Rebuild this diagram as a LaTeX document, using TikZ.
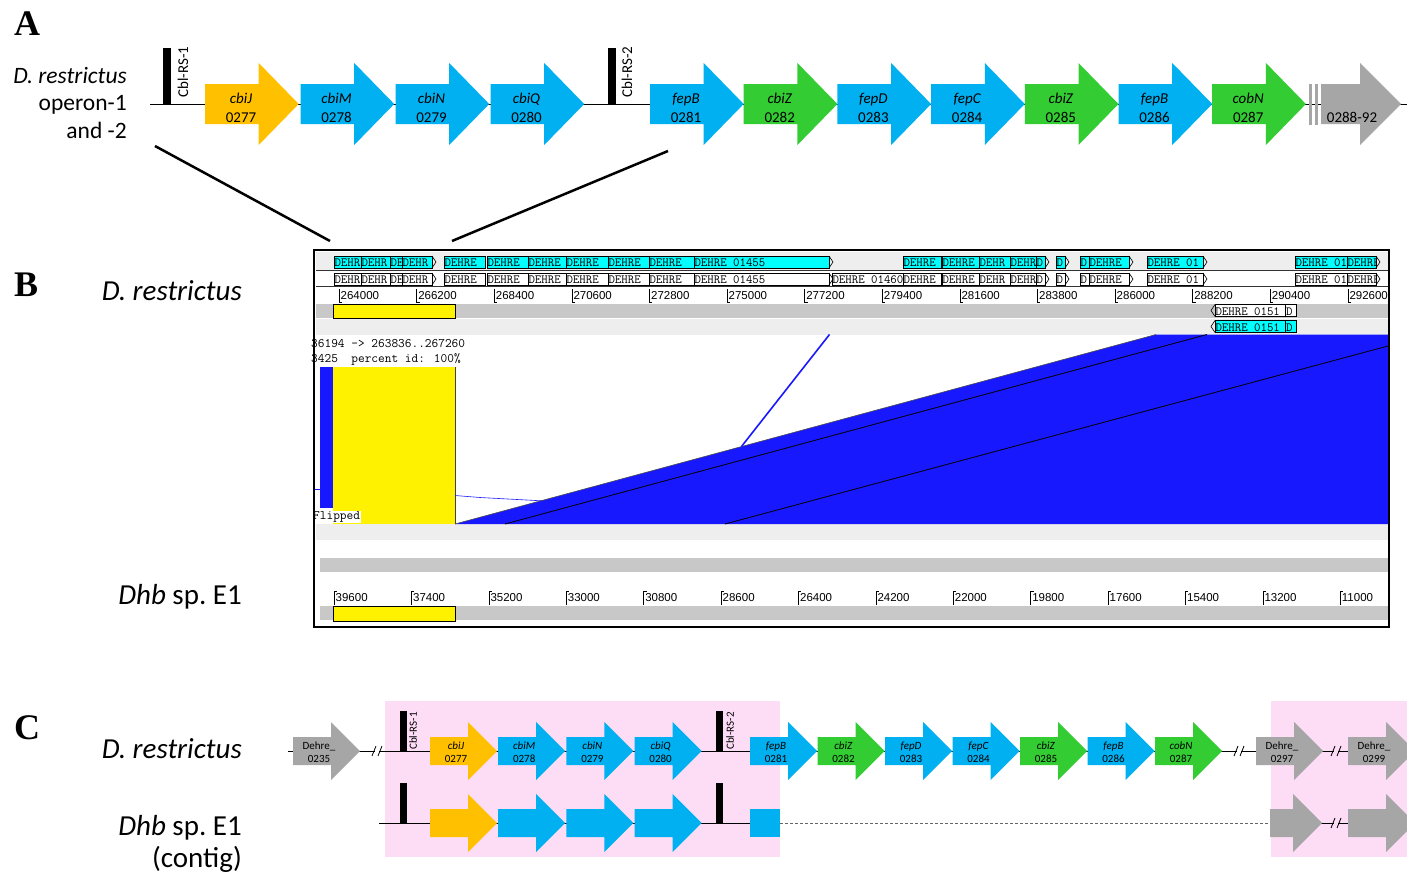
\documentclass[tikz,border=0pt]{standalone}
\usepackage{fontspec}
\setmainfont{Carlito}
\newfontfamily\serifbold{Liberation Serif}
\newfontfamily\rulerfont{Liberation Sans}

\definecolor{gorange}{HTML}{FFC000}
\definecolor{gblue}{HTML}{00B0F0}
\definecolor{ggreen}{HTML}{33CC33}
\definecolor{ggray}{HTML}{A6A6A6}
\definecolor{pinkbg}{HTML}{FDDDF6}
\definecolor{bblue}{HTML}{1818FF}
\definecolor{bcyan}{HTML}{00FFFF}
\definecolor{lgray}{HTML}{EEEEEE}
\definecolor{mgray}{HTML}{C8C8C8}

% operon arrow of the top row: left x, colour, name, gene, locus number
\newcommand\arrA[5]{%
  \fill[#2] (#1,84) -- (#1+53.7,84) -- (#1+53.7,63) -- (#1+93.7,104)
    -- (#1+53.7,145) -- (#1+53.7,124) -- (#1,124) -- cycle;
  \node[gA] (#3a) at (#1+36,103) {\itshape #4};
  \node[gA] (#3b) at (#1+36,122) {#5};
}
% small operon arrow: left x, baseline y, colour, name, top label, bottom label
\newcommand\arrC[6]{%
  \fill[#3] (#1,#2-14) -- (#1+38,#2-14) -- (#1+38,#2-29) -- (#1+67,#2)
    -- (#1+38,#2+29) -- (#1+38,#2+14) -- (#1,#2+14) -- cycle;
  \node[gC] (#4a) at (#1+26,#2-2) {#5};
  \node[gC] (#4b) at (#1+26,#2+11) {#6};
}
% genome browser gene box: x1, x2, top y, fill, label, row tag
\newcommand\bgene[6]{%
  \begin{scope}
    \clip (#1,#3) rectangle (#2,#3+12);
    \fill[#4] (#1,#3) rectangle (#2,#3+12);
    \node[genelbl] (g#6#1) at (#1+0.3,#3+6.8) {#5};
  \end{scope}
  \draw[line width=0.7pt] (#1,#3) rectangle (#2,#3+12);
}
% open chevron closing a gene box
\newcommand\bchev[2]{\draw[line width=0.6pt] (#1,#2) -- (#1+4,#2+6) -- (#1,#2+12);}
% break mark on a chromosome line
\newcommand\brk[2]{\draw[line width=0.8pt] (#1-5,#2+5) -- (#1-1,#2-5) (#1+1,#2+5) -- (#1+5,#2-5);}

\begin{document}
\begin{tikzpicture}[x=1pt,y=-1pt,
  panel/.style={font=\serifbold\bfseries\fontsize{36}{40}\selectfont, anchor=base west, inner sep=0pt},
  orgA/.style={font=\fontsize{23.5}{27}\selectfont, anchor=base east, inner sep=0pt},
  orgB/.style={font=\fontsize{29}{34}\selectfont, anchor=base east, inner sep=0pt},
  gA/.style={font=\fontsize{15}{18}\selectfont, anchor=base, inner sep=0pt},
  gC/.style={font=\fontsize{11}{13}\selectfont, anchor=base, inner sep=0pt},
  rsA/.style={font=\fontsize{15}{17}\selectfont, rotate=90, inner sep=0pt},
  rsC/.style={font=\fontsize{11}{13}\selectfont, rotate=90, inner sep=0pt},
  ruler/.style={font=\rulerfont\fontsize{11.5}{13}\selectfont, anchor=west, inner sep=0pt},
  mono/.style={font=\ttfamily\fontsize{13}{14}\selectfont, anchor=west, inner sep=0pt},
  genelbl/.style={font=\ttfamily\fontsize{12.5}{13}\selectfont, anchor=west, inner sep=0pt},
  chrom/.style={line width=0.8pt}]
\useasboundingbox (0,0) rectangle (1407,875);

% ---------------- A ----------------
\node[panel] (pA) at (14,36) {A};
\node[orgA] (a1) at (127,83) {\itshape D. restrictus};
\node[orgA] (a2) at (127,110) {operon-1};
\node[orgA] (a3) at (127,138) {and -2};

\draw[chrom] (150,104) -- (1407,104);
\fill (163,48) rectangle (171,104);
\node[rsA] (rs1) at (183,72) {Cbl-RS-1};
\fill (608,48) rectangle (616,104);
\node[rsA] (rs2) at (627,72) {Cbl-RS-2};

\arrA{205}{gorange}{aJ}{cbiJ}{0277}
\arrA{300.5}{gblue}{aM}{cbiM}{0278}
\arrA{395.5}{gblue}{aN}{cbiN}{0279}
\arrA{490.5}{gblue}{aQ}{cbiQ}{0280}
\arrA{650}{gblue}{aB1}{fepB}{0281}
\arrA{743.7}{ggreen}{aZ1}{cbiZ}{0282}
\arrA{837.4}{gblue}{aD}{fepD}{0283}
\arrA{931.1}{gblue}{aC}{fepC}{0284}
\arrA{1024.8}{ggreen}{aZ2}{cbiZ}{0285}
\arrA{1118.5}{gblue}{aB2}{fepB}{0286}
\arrA{1212.2}{ggreen}{aN2}{cobN}{0287}
\fill[ggray] (1308.5,84) rectangle (1311.5,125);
\fill[ggray] (1314.5,84) rectangle (1317.5,125);
\fill[ggray] (1321,84) -- (1360,84) -- (1360,63) -- (1401,104) -- (1360,145) -- (1360,124) -- (1321,124) -- cycle;
\node[gA] (aRest) at (1352,122) {0288-92};

% zoom lines down to the browser view
\coordinate (zA1) at (155,146);
\coordinate (zB1) at (330,241);
\coordinate (zA2) at (668,151);
\coordinate (zB2) at (452,241);
\draw[line width=2.5pt] (zA1) -- (zB1);
\draw[line width=2.5pt] (zA2) -- (zB2);

% ---------------- B ----------------
\node[panel] (pB) at (14,296) {B};
\node[orgB] (b1) at (242,300) {\itshape D. restrictus};
\node[orgB] (b2) at (242,604) {\textit{Dhb} sp.\ E1};

% track backgrounds
\fill[lgray] (316,252) rectangle (1388,270);
\fill[mgray] (316,304) rectangle (1388,318);
\fill[lgray] (316,319) rectangle (1388,334.5);
\fill[lgray] (316,524) rectangle (1388,540);
\fill[mgray] (320,558) rectangle (1388,572);
\fill[mgray] (320,606) rectangle (1388,620);
\draw[line width=0.5pt, black!80] (316,270.5) -- (1388,270.5);
\draw[line width=0.5pt, black!80] (316,286) -- (1388,286);

% annotated genes, forward strand (filled) and copy (open)
\foreach \a/\b/\t in {334/361/DEHR, 361/390/DEHR, 390/402/DE, 402/432/DEHR,
  444/485/DEHRE, 487/528/DEHRE, 528/566/DEHRE, 566/608/DEHRE, 608/649/DEHRE,
  649/694/DEHRE, 694/829/DEHRE 01455, 903/941/DEHRE, 942/979/DEHRE,
  979/1010/DEHR, 1010/1036/DEHR, 1036/1045/D, 1056/1065/D, 1080/1089/D,
  1089/1129/DEHRE, 1147/1203/DEHRE 01, 1295/1347/DEHRE 01, 1347/1376/DEHRE}{
  \bgene{\a}{\b}{256}{bcyan}{\t}{r}
  \bgene{\a}{\b}{273}{white}{\t}{s}
}
\bgene{832}{903}{273}{white}{DEHRE 01460}{s}
\foreach \c in {432,829,1045,1065,1129,1203,1376}{
  \bchev{\c}{256}
  \bchev{\c}{273}
}

% coordinate ruler of the upper sequence
\foreach \i/\lab in {0/264000,1/266200,2/268400,3/270600,4/272800,5/275000,
  6/277200,7/279400,8/281600,9/283800,10/286000,11/288200,12/290400,13/292600}{
  \pgfmathsetmacro\tx{339+77.6*\i}
  \draw[line width=0.6pt] (\tx,289) -- (\tx,302) -- (\tx+3,302);
  \node[ruler] (rt\i) at (\tx+1.5,296) {\lab};
}

% matched region and reverse-strand gene
\draw[fill=yellow, line width=0.7pt] (333,304) rectangle (455,318);
\bgene{1215}{1285}{304.5}{white}{DEHRE 0151}{u}
\bgene{1285.5}{1296}{304.5}{white}{D}{u}
\bgene{1215}{1285}{320.5}{bcyan}{DEHRE 0151}{v}
\bgene{1285.5}{1296}{320.5}{bcyan}{D}{v}
\draw[line width=0.6pt] (1215,304.5) -- (1211,310.5) -- (1215,316.5);
\draw[line width=0.6pt] (1215,320.5) -- (1211,326.5) -- (1215,332.5);

% alignment view
\node[mono] (hit1) at (311,343.5) {36194 -> 263836..267260};
\node[mono] (hit2) at (311,359.5) {3425~~percent id: 100\%};
\draw[bblue, line width=0.6pt] (315,489) -- (320,489);
\fill[bblue] (320,367) rectangle (333,508);
\fill[yellow] (333,367) rectangle (455,524);
\draw[black!75, line width=0.8pt] (455,367) -- (455,524);
\draw[bblue, line width=0.6pt] (455,495.5) -- (480,497.5) -- (545,501);
\fill[bblue] (455,524) -- (1156,334.5) -- (1388,334.5) -- (1388,524) -- cycle;
\draw[black!70, line width=0.6pt] (455,524) -- (1156,334.5);
\draw[line width=0.8pt] (505,524) -- (1207,334.5);
\draw[line width=0.8pt] (725,524) -- (1388,346);
\draw[bblue, line width=1.6pt] (741.5,446.5) -- (829.5,334.5);
\node[mono, fill=white, inner sep=1pt] (flip) at (312,517) {Flipped};

% coordinate ruler of the lower sequence
\foreach \i/\lab in {0/39600,1/37400,2/35200,3/33000,4/30800,5/28600,6/26400,
  7/24200,8/22000,9/19800,10/17600,11/15400,12/13200,13/11000}{
  \pgfmathsetmacro\tx{334+77.4*\i}
  \draw[line width=0.6pt] (\tx,605) -- (\tx,591) -- (\tx+3,591);
  \node[ruler] (rb\i) at (\tx+1.5,598) {\lab};
}
\draw[fill=yellow, line width=0.7pt] (333,606) rectangle (455,621);

\draw[line width=1.5pt] (314,250) rectangle (1389,627);

% ---------------- C ----------------
\node[panel] (pC) at (14,739) {C};
\node[orgB] (c1) at (242,758) {\itshape D. restrictus};
\node[orgB] (c2) at (242,835) {\textit{Dhb} sp.\ E1};
\node[orgB] (c3) at (242,867) {(contig)};

\fill[pinkbg] (385,701) rectangle (780,857);
\fill[pinkbg] (1271,701) rectangle (1407,857);

% upper chromosome
\draw[chrom] (288,751) -- (375,751) (379,751) -- (1237,751)
  (1241,751) -- (1334,751) (1338,751) -- (1407,751);
\brk{377}{751}
\brk{1239}{751}
\brk{1336}{751}
\fill (400,711) rectangle (407,751);
\node[rsC] (crs1) at (413,731) {Cbl-RS-1};
\fill (716,711) rectangle (723,751);
\node[rsC] (crs2) at (730,731) {Cbl-RS-2};

\arrC{293}{751}{ggray}{c0235}{Dehre\_}{0235}
\arrC{430}{751}{gorange}{cJ}{\textit{cbiJ}}{0277}
\arrC{498.2}{751}{gblue}{cM}{\textit{cbiM}}{0278}
\arrC{566.4}{751}{gblue}{cN}{\textit{cbiN}}{0279}
\arrC{634.6}{751}{gblue}{cQ}{\textit{cbiQ}}{0280}
\arrC{750}{751}{gblue}{cB1}{\textit{fepB}}{0281}
\arrC{817.5}{751}{ggreen}{cZ1}{\textit{cbiZ}}{0282}
\arrC{885}{751}{gblue}{cD}{\textit{fepD}}{0283}
\arrC{952.5}{751}{gblue}{cC}{\textit{fepC}}{0284}
\arrC{1020}{751}{ggreen}{cZ2}{\textit{cbiZ}}{0285}
\arrC{1087.5}{751}{gblue}{cB2}{\textit{fepB}}{0286}
\arrC{1155}{751}{ggreen}{cN2}{\textit{cobN}}{0287}
\arrC{1256}{751}{ggray}{c0297}{Dehre\_}{0297}
\arrC{1348}{751}{ggray}{c0299}{Dehre\_}{0299}

% lower contig
\draw[chrom] (379,823) -- (780,823);
\draw[chrom, black!60, dash pattern=on 3pt off 2pt] (780,823) -- (1270,823);
\draw[chrom] (1320,823) -- (1334,823) (1338,823) -- (1407,823);
\brk{1336}{823}
\fill (400,783) rectangle (407,823);
\fill (716,783) rectangle (723,823);
\arrC{430}{823}{gorange}{dJ}{}{}
\arrC{498.2}{823}{gblue}{dM}{}{}
\arrC{566.4}{823}{gblue}{dN}{}{}
\arrC{634.6}{823}{gblue}{dQ}{}{}
\fill[gblue] (750,809) rectangle (780,837);
\fill[ggray] (1270,809) -- (1293,809) -- (1293,794) -- (1322,823) -- (1293,852) -- (1293,837) -- (1270,837) -- cycle;
\arrC{1348}{823}{ggray}{d0299}{}{}
\end{tikzpicture}
\end{document}
